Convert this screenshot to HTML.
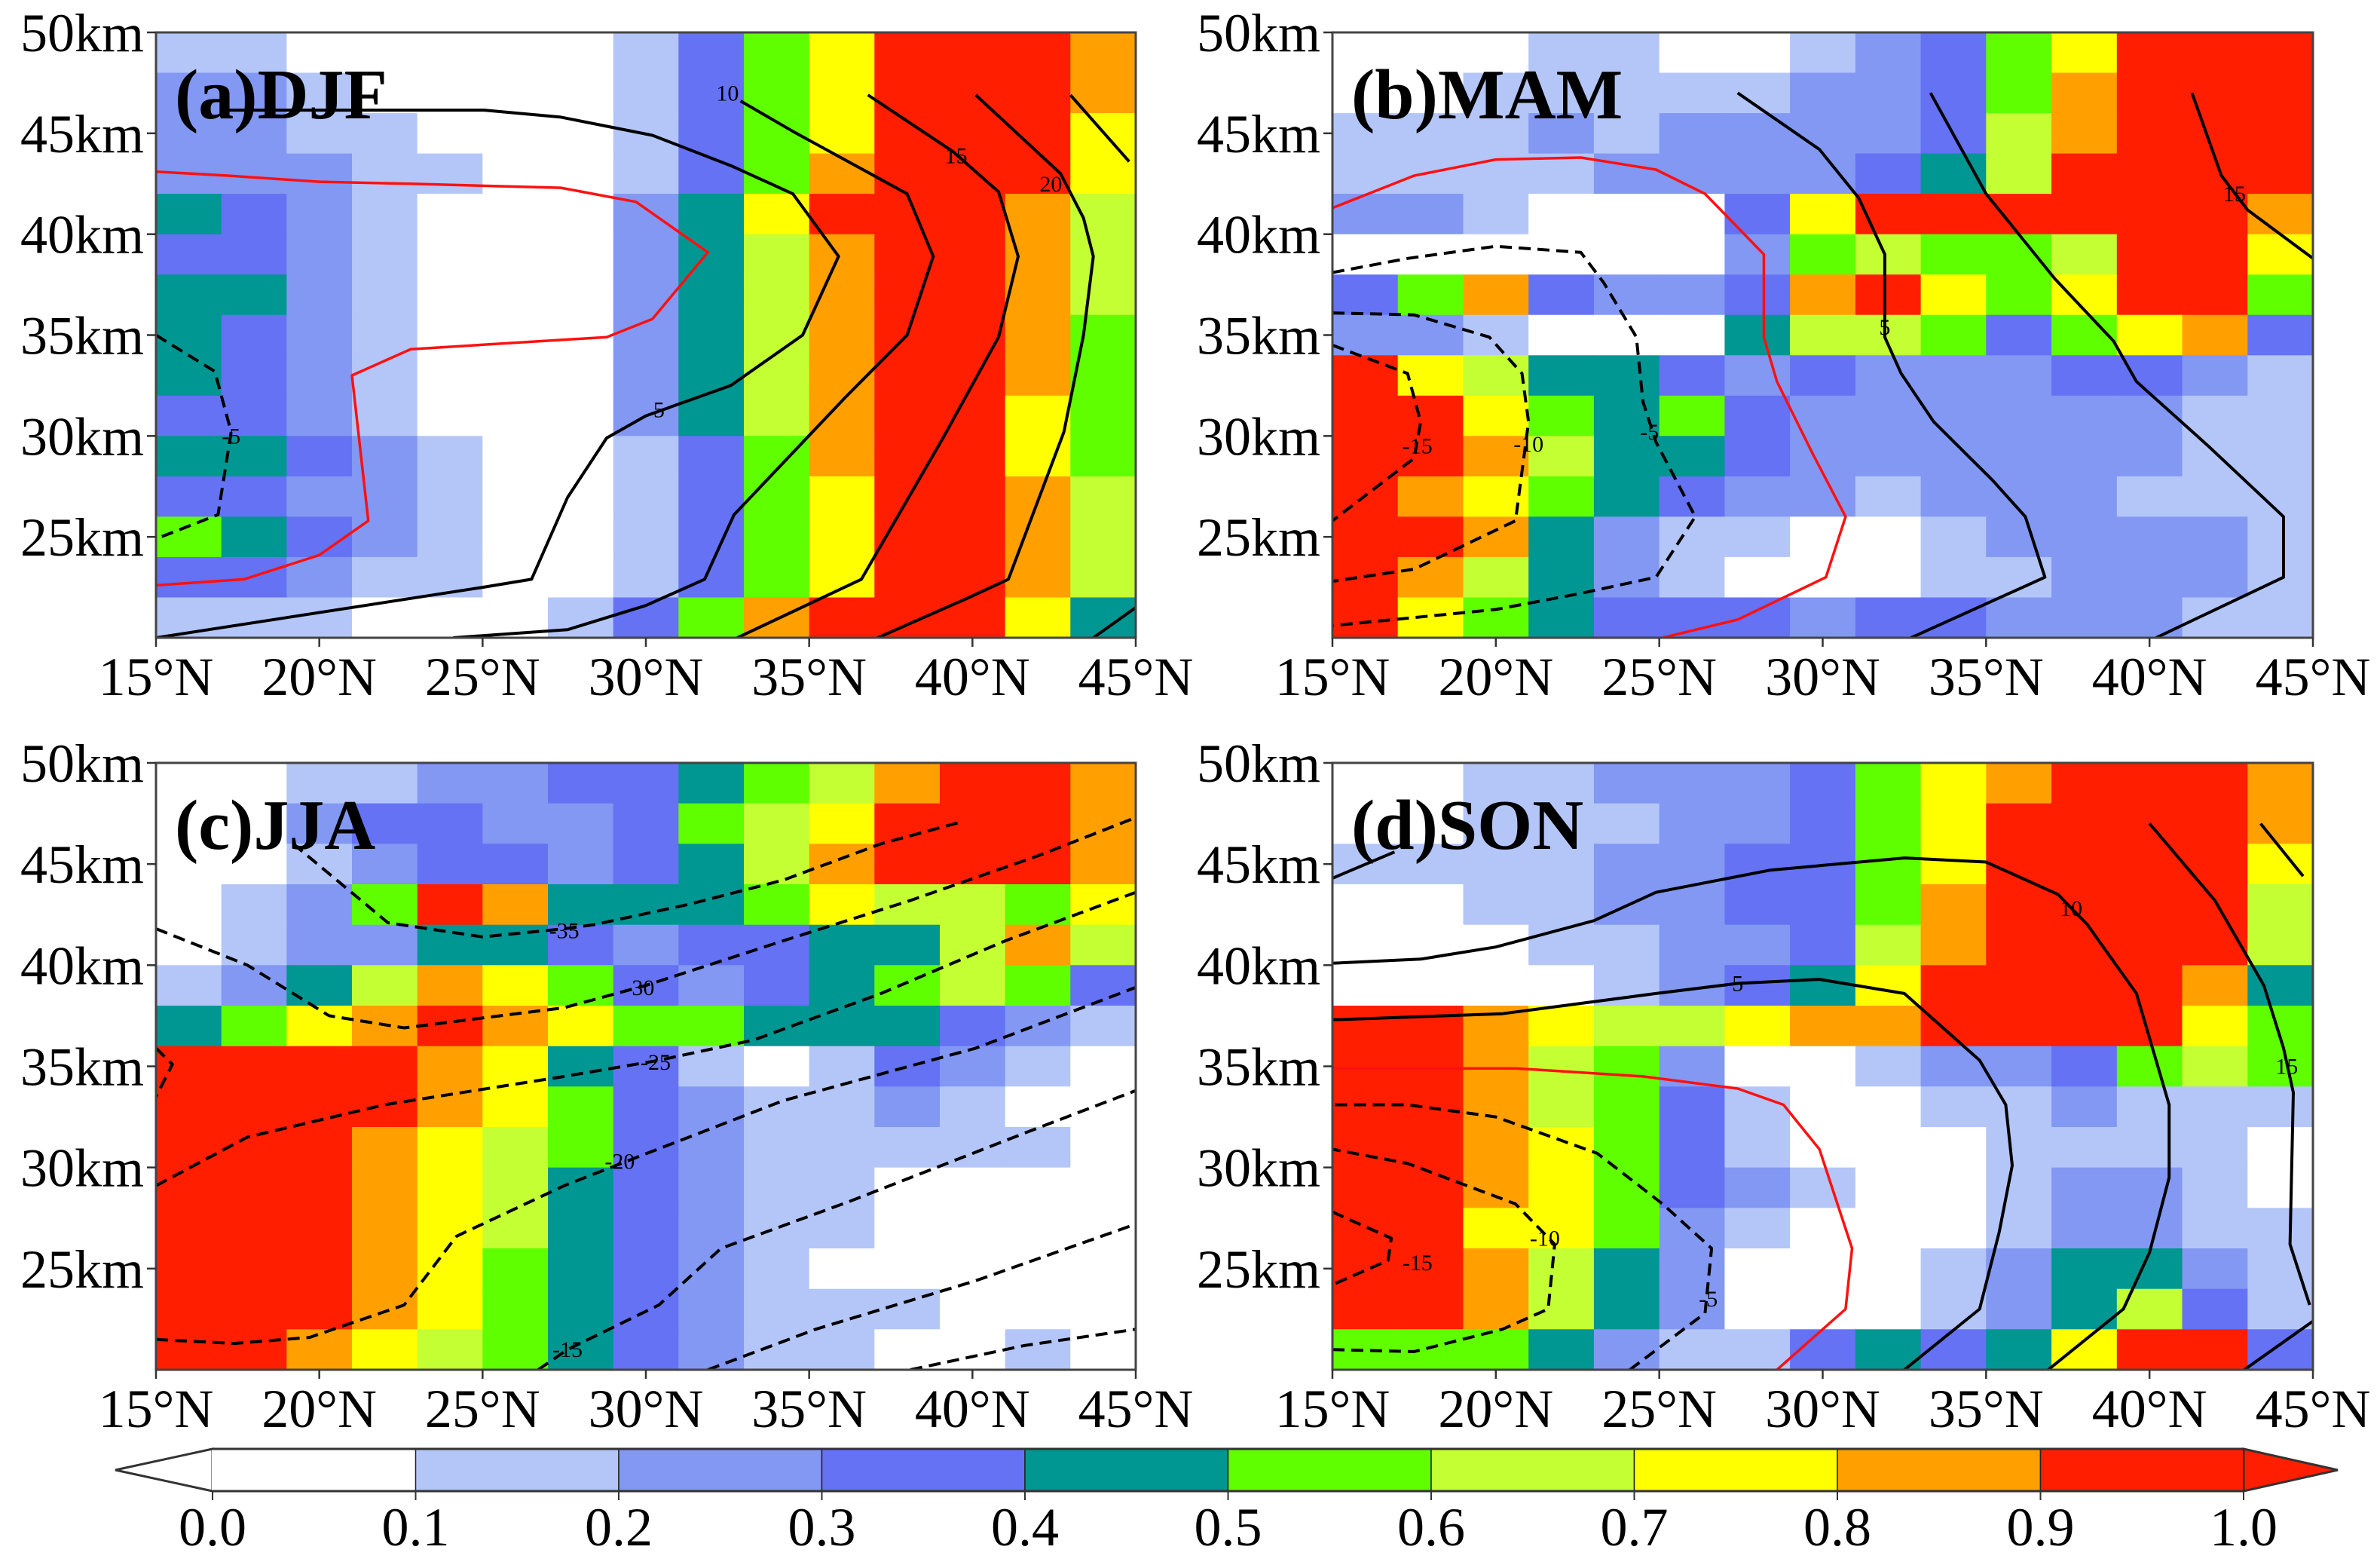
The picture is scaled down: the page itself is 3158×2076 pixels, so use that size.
<!DOCTYPE html>
<html><head><meta charset="utf-8"><style>
html,body{margin:0;padding:0;background:#fff}
svg{display:block}
text{font-family:"Liberation Serif",serif}
</style></head><body>
<svg id="fig" width="3158" height="2076" viewBox="0 0 3158 2076" xmlns="http://www.w3.org/2000/svg"></svg>
<script>
// ---- data ----
const latTicks = [15,20,25,30,35,40,45];
const kmTicks = [25,30,35,40,45,50];
const levelLabels = ["0.0","0.1","0.2","0.3","0.4","0.5","0.6","0.7","0.8","0.9","1.0"];
const classColors = ["#ffffff","#b4c6f8","#8298f2","#6472f3","#009692","#60ff00","#c4ff33","#ffff00","#ffa000","#ff1e00"];
const panelTitles = ["(a)DJF","(b)MAM","(c)JJA","(d)SON"];
// grid cells: columns 15-17,...,43-45 N; rows 50-48,...,22-20 km (class index 0-9)
const gridDJF = ["110000013579998","221000013579998","221100013579997","222110013589997","432100024799986","332100024689986","442100024689986","432100024689985","432100024689985","332100024689975","443210013589975","332210013579986","543210013579986","332110013579986","111000135899974"];
const gridMAM = ["000110012357999","001111122358999","111212222368999","111122223469999","221000379999998","000000256556997","358322389757995","221000466535783","976443232223321","997545322222211","998644322222211","987543221222111","998421100122221","986421000112221","975433323322211"];
const gridJJA = ["001122334568998","002332235679998","001233234689998","012598444576657","012244323344686","124687532345653","457898755444321","999987431013210","999987532112100","999876532111110","999876432110000","999876432110000","999875432100000","999875432111000","998765432110010"];
const gridSON = ["001122235789998","001112235799998","111122335799997","001122335899996","000112236899996","000012347999984","998766788999975","998652001223565","998653100112111","998753100011110","998753210012210","997752100012211","998642000124421","998642000124631","555421134347993"];
// contour lines: [lat, km] pairs
const djfRed = [[15,43.1],[17.2,42.9],[20,42.6],[22.8,42.5],[27.4,42.3],[29.7,41.6],[31.9,39.1],[30.2,35.8],[28.8,34.9],[22.8,34.3],[21,33],[21.5,25.8],[20,24.1],[17.7,22.9],[15,22.6]];
const djf5 = [[17,46.15],[25.05,46.15],[27.4,45.8],[30.2,44.9],[32.6,43.4],[34.5,42],[35.9,38.9],[34.8,35],[32.6,32.5],[30,31],[28.8,29.9],[27.6,26.95],[26.5,22.9],[25,22.5],[15,20]];
const djf10 = [[32.9,46.6],[34.5,45.1],[38,42],[38.8,38.9],[38,35],[36.1,31.9],[32.7,26.1],[31.8,22.9],[30,21.6],[27.6,20.4],[24.1,20]];
const djf15 = [[36.8,46.9],[39.4,44.1],[40.8,42.1],[41.4,38.9],[40.8,34.9],[39.1,29.9],[36.6,22.9],[32.8,20]];
const djf20 = [[40.1,46.9],[42.7,43],[43.4,40.8],[43.7,38.9],[43.4,35],[42.8,30.2],[41.1,22.9],[39.9,22],[37.1,20]];
const djf25 = [[43,46.9],[44.8,43.6]];
const djf25b = [[45,21.5],[43.7,20]];
const djfNeg5 = [[15,35],[16.8,33.2],[17.3,30.2],[16.9,26.1],[15,24.9]];
const mamRed = [[15,41.3],[17.5,42.9],[20,43.7],[22.6,43.8],[24.9,43.2],[26.4,42],[28.2,39],[28.2,34.9],[28.6,32.7],[29.7,29.1],[30.7,26],[30.1,23],[27.4,20.9],[25.1,20]];
const mam5 = [[27.4,47],[29.9,44.2],[31.1,41.8],[31.9,39],[31.9,35.9],[31.9,34.9],[32.4,33.1],[33.4,30.7],[35.2,27.8],[36.2,26],[36.8,23],[32.7,20]];
const mam10 = [[33.3,47],[35,42],[37.1,37.8],[38.9,34.7],[39.6,32.7],[41.8,29.5],[44.1,26],[44.1,23],[40.2,20]];
const mam15 = [[41.3,47],[42.2,42.9],[43,41.2],[45,38.8]];
const mamNeg5 = [[15,38.1],[17.3,38.8],[20,39.4],[22.6,39.1],[23.3,37.6],[24.3,34.9],[24.5,31.7],[24.9,29.7],[26.1,26],[24.9,23],[22.6,22.2],[20,21.4],[15,20.6]];
const mamNeg10 = [[15,36.1],[17.5,36],[19.8,34.9],[20.8,33.1],[21,30.7],[20.6,25.8],[17.5,23.4],[15,22.8]];
const mamNeg15 = [[15,34.5],[17.3,33.1],[17.7,30.7],[17.5,28.9],[15,25.8]];
const jjaNeg35 = [[19.2,46],[22.1,42.1],[25,41.4],[27.5,41.8],[28.4,42],[31.3,43],[34.2,44.2],[37.2,46],[39.7,47.1]];
const jjaNeg30 = [[15,41.8],[17.8,40],[20.3,37.5],[22.6,36.9],[27.5,37.9],[30,39],[34.2,41.2],[38.1,43.2],[42,45.4],[45,47.3]];
const jjaNeg25 = [[15,29.1],[17.8,31.5],[22,33.1],[27.5,34.5],[30.4,35.3],[33.3,36.3],[37.2,38.6],[41,41.2],[45,43.6]];
const jjaNeg20 = [[15,21.5],[17.4,21.3],[19.7,21.6],[22.6,23.2],[24.2,26.6],[27.5,29.1],[29.4,30.3],[34.2,33.3],[40.1,35.9],[45,38.9]];
const jjaNeg15 = [[26.7,20],[27.6,21],[30.4,23.2],[32.3,26],[36.2,28.3],[41.6,31.7],[45,33.8]];
const jjaNeg10 = [[31.9,20],[35.2,22],[40.1,24.4],[45,27.2]];
const jjaNeg5 = [[38.1,20],[41.6,21.2],[45,22]];
const jjaNegL = [[15,35.9],[15.5,35.1],[15,33.5]];
const sonRed = [[15,34.9],[20.6,34.9],[24.5,34.5],[27.4,33.9],[28.8,33.1],[29.9,30.9],[30.9,26],[30.7,23],[28.6,20]];
const son5 = [[15,37.3],[20.2,37.6],[24.9,38.6],[27.4,39.1],[29.9,39.3],[32.5,38.6],[34.8,35.3],[35.6,33.1],[35.8,30.1],[35.4,26.8],[34.8,23],[32.5,20]];
const son10 = [[15,40.1],[17.7,40.3],[20,40.9],[23,42.2],[24.9,43.6],[28.4,44.7],[32.5,45.3],[35,45.1],[37.2,43.5],[38.1,42],[39.6,38.6],[40.6,33.1],[40.6,29.5],[40,25.8],[39.2,23],[36.9,20]];
const son15 = [[40,47],[42,43.2],[43.5,39],[44.1,35.9],[44.4,33.7],[44.3,26.2],[44.9,23.2]];
const son15b = [[45,22.4],[42.9,20]];
const son20 = [[43.4,47],[44.7,44.4]];
const son15tl = [[15,44.3],[16.9,45.6]];
const sonNeg5 = [[24.1,20],[26.4,22.8],[26.6,26],[25.1,28.2],[23.1,30.7],[20,32.5],[17.3,33.1],[15,33.1]];
const sonNeg10 = [[15,21],[17.5,20.9],[20.2,22],[21.6,23],[21.8,26.2],[20.6,28.2],[17.3,30.2],[15,30.9]];
const sonNeg15 = [[15,27.8],[16.8,26.5],[16.7,25.4],[15,24.2]];
// contour labels [lat, km, text]
const djfLabels = [[32.5,47,"10"],[39.5,43.9,"15"],[42.4,42.5,"20"],[30.4,31.3,"5"],[17.3,30,"-5"]];
const mamLabels = [[31.9,35.4,"5"],[42.6,42,"15"],[17.6,29.5,"-15"],[21,29.6,"-10"],[24.7,30.2,"-5"]];
const jjaLabels = [[27.5,41.7,"-35"],[29.8,38.9,"-30"],[30.3,35.2,"-25"],[29.2,30.3,"-20"],[27.6,21,"-15"]];
const sonLabels = [[27.4,39.1,"5"],[37.6,42.8,"10"],[44.2,35,"15"],[17.6,25.3,"-15"],[21.5,26.5,"-10"],[26.5,23.5,"-5"]];

const grids = [gridDJF,gridMAM,gridJJA,gridSON];
const lines = [
 [[djfRed,"red",false],[djf5,"k",false],[djf10,"k",false],[djf15,"k",false],[djf20,"k",false],[djf25,"k",false],[djf25b,"k",false],[djfNeg5,"k",true]],
 [[mamRed,"red",false],[mam5,"k",false],[mam10,"k",false],[mam15,"k",false],[mamNeg5,"k",true],[mamNeg10,"k",true],[mamNeg15,"k",true]],
 [[jjaNeg35,"k",true],[jjaNeg30,"k",true],[jjaNeg25,"k",true],[jjaNeg20,"k",true],[jjaNeg15,"k",true],[jjaNeg10,"k",true],[jjaNeg5,"k",true],[jjaNegL,"k",true]],
 [[sonRed,"red",false],[son5,"k",false],[son10,"k",false],[son15,"k",false],[son15b,"k",false],[son20,"k",false],[son15tl,"k",false],[sonNeg5,"k",true],[sonNeg10,"k",true],[sonNeg15,"k",true]]
];
const labels = [djfLabels,mamLabels,jjaLabels,sonLabels];

// ---- layout ----
const NS="http://www.w3.org/2000/svg";
const svg=document.getElementById('fig');
const panels=[{x0:207,x1:1507,y0:43,y1:846},{x0:1768,x1:3069,y0:43,y1:846},{x0:207,x1:1507,y0:1012,y1:1817},{x0:1768,x1:3069,y0:1012,y1:1817}];
function mk(tag,attrs,parent){const e=document.createElementNS(NS,tag);for(const k in attrs)e.setAttribute(k,attrs[k]);(parent||svg).appendChild(e);return e;}

panels.forEach((P,pi)=>{
  const g=mk('g',{});
  
  
  const xs=lat=>P.x0+(lat-15)/30*(P.x1-P.x0);
  const ys=km=>P.y1-(km-20)/30*(P.y1-P.y0);
  const clip=mk('clipPath',{id:'clip'+pi},g);
  mk('rect',{x:P.x0,y:P.y0,width:P.x1-P.x0,height:P.y1-P.y0},clip);
  const hg=mk('g',{'clip-path':'url(#clip'+pi+')'},g);
  
  
  const grid=grids[pi];
  grid.forEach((row,r)=>{
    for(let c=0;c<row.length;c++){
      const v=+row[c];
      const la=15+2*c, kt=50-2*r;
      const x=xs(la), y=ys(kt);
      const cell=mk('rect',{x:x.toFixed(1),y:y.toFixed(1),width:(xs(la+2)-x+1).toFixed(1),height:(ys(kt-2)-y+1).toFixed(1),fill:classColors[v]},hg);
      
      
    }
  });
  lines[pi].forEach(([pts,col,dash])=>{
    const d=pts.map((p,i)=>(i?'L':'M')+xs(p[0]).toFixed(1)+' '+ys(p[1]).toFixed(1)).join(' ');
    const pth=mk('path',{d:d,fill:'none',stroke:col==='red'?'#ff1010':'#000','stroke-width':col==='red'?3.5:4,'stroke-dasharray':dash?'16 9':'none','stroke-linejoin':'round'},hg);
    
    
  });
  labels[pi].forEach(([la,km,t])=>{
    const tx=mk('text',{x:xs(la),y:ys(km)+10,'font-size':30,'font-family':'Liberation Sans, sans-serif','text-anchor':'middle',fill:'#000'},hg);
    tx.textContent=t;
    
    
  });
  const fr=mk('rect',{x:P.x0,y:P.y0,width:P.x1-P.x0,height:P.y1-P.y0,fill:'none',stroke:'#444','stroke-width':3},g);
  
  
  latTicks.forEach(l=>{
    const x=xs(l);
    const tk=mk('line',{x1:x,x2:x,y1:P.y1,y2:P.y1+12,stroke:'#333','stroke-width':2.5},g);
    
    
    const t=mk('text',{x:x,y:P.y1+76,'font-size':72,'text-anchor':'middle'},g);
    t.textContent=l+'°N';
    
    
  });
  kmTicks.forEach(k=>{
    const y=ys(k);
    const tk=mk('line',{x1:P.x0-12,x2:P.x0,y1:y,y2:y,stroke:'#333','stroke-width':2.5},g);
    
    
    const t=mk('text',{x:P.x0-16,y:y+25,'font-size':72,'text-anchor':'end'},g);
    t.textContent=k+'km';
    
    
  });
  const tt=mk('text',{x:P.x0+25,y:P.y0+114,'font-size':94,'font-weight':'bold'},g);
  tt.textContent=panelTitles[pi];
  
  
});

// ---- colorbar ----
const cb=mk('g',{});


const cbX0=282, cbX1=2977, cbY0=1922, cbY1=1978, cbTipL=153, cbTipR=3102;
const seg=(cbX1-cbX0)/10;
const cbx=i=>cbX0+i*seg; // boundary for level i (0..10)
const cbMid=(cbY0+cbY1)/2;
const lt=mk('polygon',{points:`${cbTipL},${cbMid} ${cbX0},${cbY0} ${cbX0},${cbY1}`,fill:classColors[0],stroke:'#333','stroke-width':3},cb);


const rt=mk('polygon',{points:`${cbX1},${cbY0} ${cbTipR},${cbMid} ${cbX1},${cbY1}`,fill:classColors[9],stroke:'#333','stroke-width':3},cb);


for(let i=0;i<10;i++){
  const r=mk('rect',{x:cbx(i),y:cbY0,width:seg,height:cbY1-cbY0,fill:classColors[i],stroke:i===0?'none':'#222','stroke-width':1.5},cb);
  
  
}
mk('rect',{x:cbX0-1,y:cbY0+1.5,width:3,height:cbY1-cbY0-3,fill:'#fff'},cb);
mk('line',{x1:cbX0,x2:cbX1,y1:cbY0,y2:cbY0,stroke:'#333','stroke-width':3},cb);
mk('line',{x1:cbX0,x2:cbX1,y1:cbY1,y2:cbY1,stroke:'#333','stroke-width':3},cb);
levelLabels.forEach((s,i)=>{
  const x=cbx(i);
  const tk=mk('line',{x1:x,x2:x,y1:cbY1,y2:cbY1+12,stroke:'#333','stroke-width':2},cb);
  
  
  const t=mk('text',{x:x,y:2050,'font-size':72,'text-anchor':'middle'},cb);
  t.textContent=s;
  
  
});
</script>
</body></html>
